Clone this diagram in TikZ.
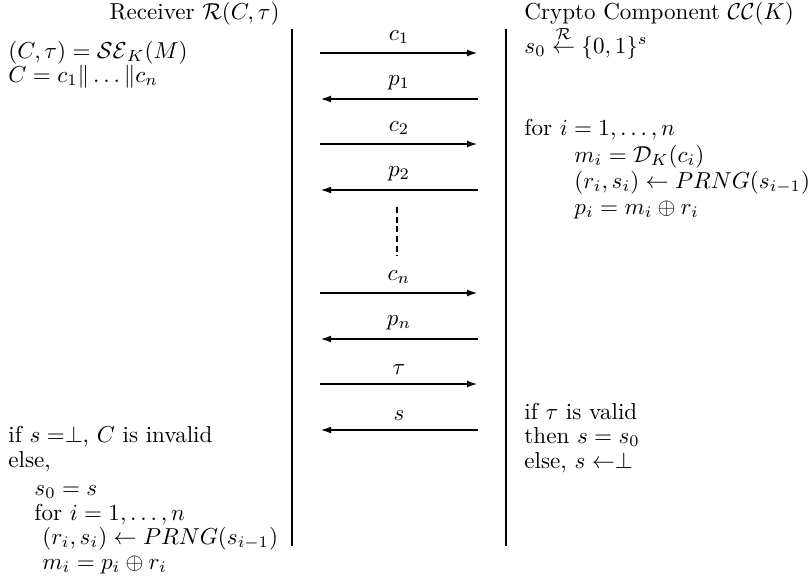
\documentclass[tikz,border=0pt]{standalone}
\usetikzlibrary{arrows.meta}
\begin{document}
\begin{tikzpicture}[x=0.4336pt,y=-0.4336pt,
  msg/.style={line width=0.9pt,-{Latex[length=4.8pt,width=3pt]}},
  life/.style={line width=0.9pt},
  txt/.style={anchor=base west,inner sep=0pt},
  lbl/.style={above=2.5pt,inner sep=1pt}]
\useasboundingbox (0,0) rectangle (811,576);
% titles
\node[anchor=base east,inner sep=0pt] (rtitle) at (280,19) {Receiver $\mathcal{R}(C,\tau)$};
\node[txt] (ctitle) at (524,19) {Crypto Component $\mathcal{CC}(K)$};
% lifelines
\coordinate (RT) at (292,29); \coordinate (RB) at (292,546);
\coordinate (CT) at (506,29); \coordinate (CB) at (506,546);
\draw[life] (RT) -- (RB);
\draw[life] (CT) -- (CB);
% receiver text top
\node[txt] (r1) at (8,58) {$(C,\tau)=\mathcal{SE}_K(M)$};
\node[txt] (r2) at (8,82) {$C=c_1\|\ldots\|c_n$};
% crypto text
\node[txt] (k1) at (524,53) {$s_0\stackrel{\mathcal{R}}{\leftarrow}\{0,1\}^s$};
\node[txt] (k2) at (524,135) {for $i=1,\ldots,n$};
\node[txt] (k3) at (574,162) {$m_i=\mathcal{D}_K(c_i)$};
\node[txt] (k4) at (574,188) {$(r_i,s_i)\leftarrow PRNG(s_{i-1})$};
\node[txt] (k5) at (574,214) {$p_i=m_i\oplus r_i$};
\node[txt] (k6) at (524,419) {if $\tau$ is valid};
\node[txt] (k7) at (524,443) {then $s=s_0$};
\node[txt] (k8) at (524,468) {else, $s\leftarrow\perp$};
% receiver text bottom
\node[txt] (b1) at (8,442) {if $s=\perp$, $C$ is invalid};
\node[txt] (b2) at (8,467) {else,};
\node[txt] (b3) at (34,495) {$s_0=s$};
\node[txt] (b4) at (34,520) {for $i=1,\ldots,n$};
\node[txt] (b5) at (42,544) {$(r_i,s_i)\leftarrow PRNG(s_{i-1})$};
\node[txt] (b6) at (42,569) {$m_i=p_i\oplus r_i$};
% messages
\foreach \n/\y in {a/53,b/99,c/144,d/190,e/293,f/339,g/384,h/430}{
  \coordinate (L\n) at (320,\y);
  \coordinate (R\n) at (478,\y);
}
\draw[msg] (La) -- node[lbl] (la) {$c_1$} (Ra);
\draw[msg] (Rb) -- node[lbl] (lb) {$p_1$} (Lb);
\draw[msg] (Lc) -- node[lbl] (lc) {$c_2$} (Rc);
\draw[msg] (Rd) -- node[lbl] (ld) {$p_2$} (Ld);
\draw[msg] (Le) -- node[lbl] (le) {$c_n$} (Re);
\draw[msg] (Rf) -- node[lbl] (lf) {$p_n$} (Lf);
\draw[msg] (Lg) -- node[lbl] (lg) {$\tau$} (Rg);
\draw[msg] (Rh) -- node[lbl] (lh) {$s$} (Lh);
% dots
\coordinate (DT) at (397,207); \coordinate (DB) at (397,256);
\draw[line width=0.9pt,dash pattern=on 2.6pt off 1.6pt] (DT) -- (DB);
\end{tikzpicture}
\end{document}
